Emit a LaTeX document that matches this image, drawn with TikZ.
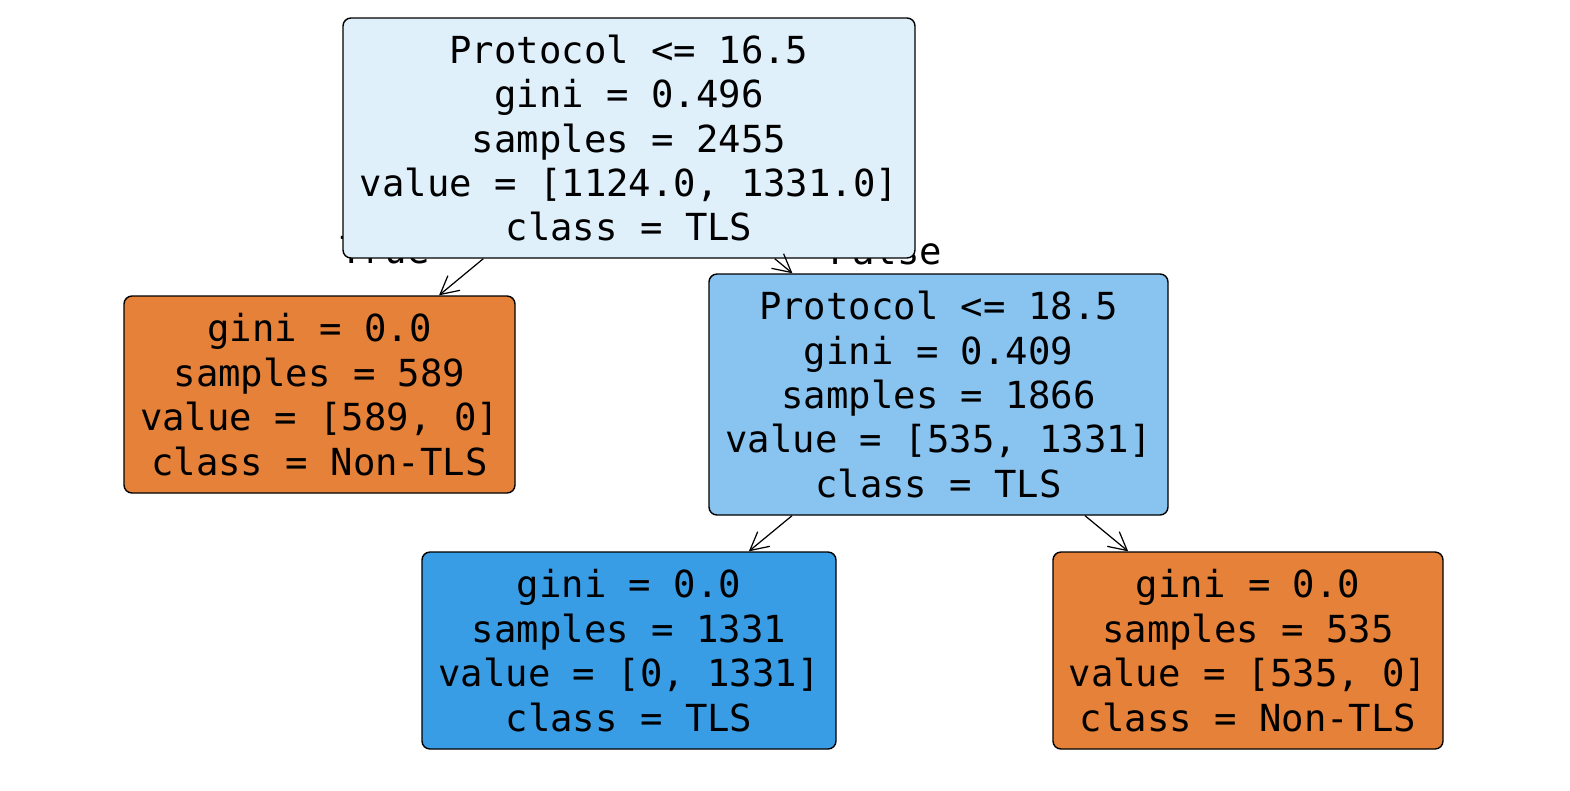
\documentclass[tikz,border=0pt]{standalone}
\usepackage{fontspec}
\usepackage{xcolor}
\usetikzlibrary{arrows.meta}
\newfontfamily\treefont{DejaVu Sans Mono}
\definecolor{rootblue}{RGB}{224,240,251}
\definecolor{midblue}{RGB}{137,196,240}
\definecolor{tlsblue}{RGB}{57,157,229}
\definecolor{nontls}{RGB}{229,129,57}

\begin{document}
\begin{tikzpicture}[
  every node/.style = {font=\treefont\fontsize{10.6pt}{12.66pt}\selectfont},
  treebox/.style = {draw=black, line width=0.4pt, rounded corners=0.8mm, align=center, inner sep=0pt},
  edgelabel/.style = {inner sep=0pt},
  >={Straight Barb[length=1.8mm, width=1.9mm]}
]
  \useasboundingbox[fill=white] (0,0) rectangle (15.7,-7.9);

  % branch labels (partly hidden by the root box)
  \node[edgelabel] (truelbl) at (3.85,-2.50) {True};
  \node[edgelabel] (falselbl) at (8.86,-2.50) {False};

  \node[treebox, fill=rootblue, minimum width=5.72cm, minimum height=2.40cm] (root) at (6.29,-1.38)
    {Protocol <= 16.5\\gini = 0.496\\samples = 2455\\value = [1124.0, 1331.0]\\class = TLS};
  \node[treebox, fill=nontls, minimum width=3.91cm, minimum height=1.97cm] (leafa) at (3.195,-3.945)
    {gini = 0.0\\samples = 589\\value = [589, 0]\\class = Non-TLS};
  \node[treebox, fill=midblue, minimum width=4.59cm, minimum height=2.41cm] (split) at (9.385,-3.945)
    {Protocol <= 18.5\\gini = 0.409\\samples = 1866\\value = [535, 1331]\\class = TLS};
  \node[treebox, fill=tlsblue, minimum width=4.14cm, minimum height=1.97cm] (leafb) at (6.29,-6.505)
    {gini = 0.0\\samples = 1331\\value = [0, 1331]\\class = TLS};
  \node[treebox, fill=nontls, minimum width=3.90cm, minimum height=1.97cm] (leafc) at (12.48,-6.505)
    {gini = 0.0\\samples = 535\\value = [535, 0]\\class = Non-TLS};

  \draw[->, line width=0.35pt] (root) -- (leafa);
  \draw[->, line width=0.35pt] (root) -- (split);
  \draw[->, line width=0.35pt] (split) -- (leafb);
  \draw[->, line width=0.35pt] (split) -- (leafc);
\end{tikzpicture}
\end{document}
